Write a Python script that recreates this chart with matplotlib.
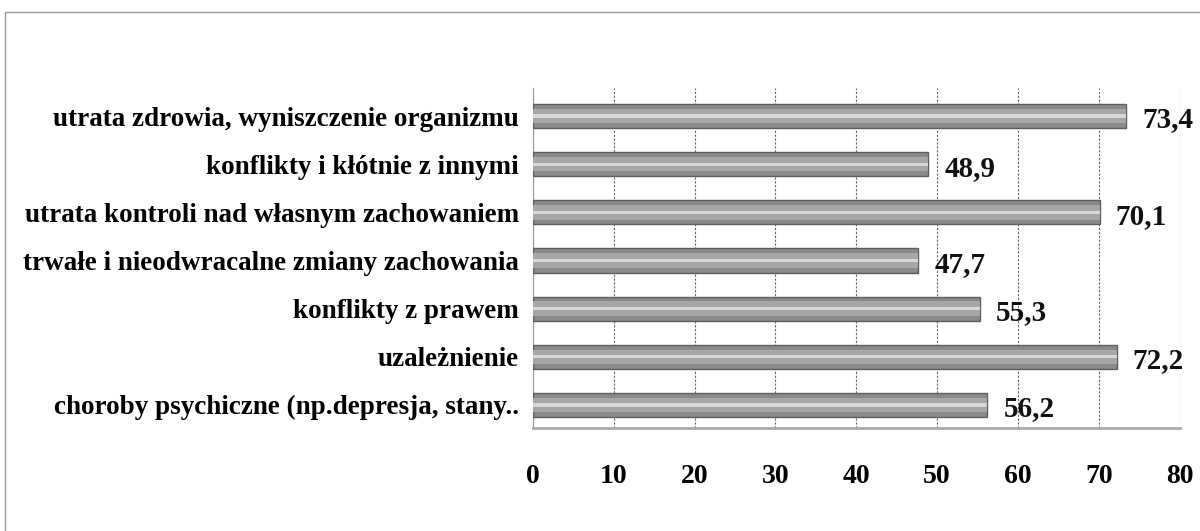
import matplotlib
matplotlib.use("Agg")
import matplotlib.pyplot as plt
from matplotlib.patches import Rectangle

categories = [
    "utrata zdrowia, wyniszczenie organizmu",
    "konflikty i kłótnie z innymi",
    "utrata kontroli nad własnym zachowaniem",
    "trwałe i nieodwracalne zmiany zachowania",
    "konflikty z prawem",
    "uzależnienie",
    "choroby psychiczne (np.depresja, stany..",
]
values = [73.4, 48.9, 70.1, 47.7, 55.3, 72.2, 56.2]
value_labels = ["73,4", "48,9", "70,1", "47,7", "55,3", "72,2", "56,2"]
ticks = [0, 10, 20, 30, 40, 50, 60, 70, 80]

plt.rcParams['font.family'] = ['Liberation Serif', 'DejaVu Serif']

fig = plt.figure(figsize=(12, 5.31), dpi=100)
ax = fig.add_axes([0.444, 0.194, 0.539, 0.64])

n = len(categories)
y = list(range(n))[::-1]
h = 0.5
ax.barh(y, values, height=h, color="#8a8a8a", edgecolor="#5e5e5e", linewidth=1.0, zorder=3)
ax.barh(y, values, height=h * 0.6, color="#a6a6a6", linewidth=0, zorder=4)
ax.barh(y, values, height=h * 0.14, color="#d8d8d8", linewidth=0, zorder=5)

for yi, v, lab in zip(y, values, value_labels):
    ax.text(v + 2.0, yi - 0.08, lab, va="center", ha="left", fontsize=21,
            fontweight="bold", color="#111111", zorder=6)

ax.set_xlim(0, 80)
ax.set_ylim(-0.48, n - 0.42)
ax.set_xticks(ticks)
ax.set_xticklabels([str(t) for t in ticks], fontsize=20, fontweight="bold")
ax.set_yticks(y)
ax.set_yticklabels(categories, fontsize=19.5, fontweight="bold")
ax.tick_params(axis="y", length=0, pad=10)
ax.tick_params(axis="x", length=0, pad=26)
ax.xaxis.grid(True, color="#666666", linestyle=(0, (2, 1.5)), linewidth=0.8, zorder=0)
for s in ["top", "right"]:
    ax.spines[s].set_visible(False)
ax.spines["left"].set_color("#999999")
ax.spines["bottom"].set_color("#aaaaaa")
ax.spines["bottom"].set_linewidth(2)

fig.patches.append(Rectangle((0.004, -0.05), 1.1, 1.027, transform=fig.transFigure,
                             fill=False, edgecolor="#999999", linewidth=1.0))

fig.savefig("out.png", dpi=100)
